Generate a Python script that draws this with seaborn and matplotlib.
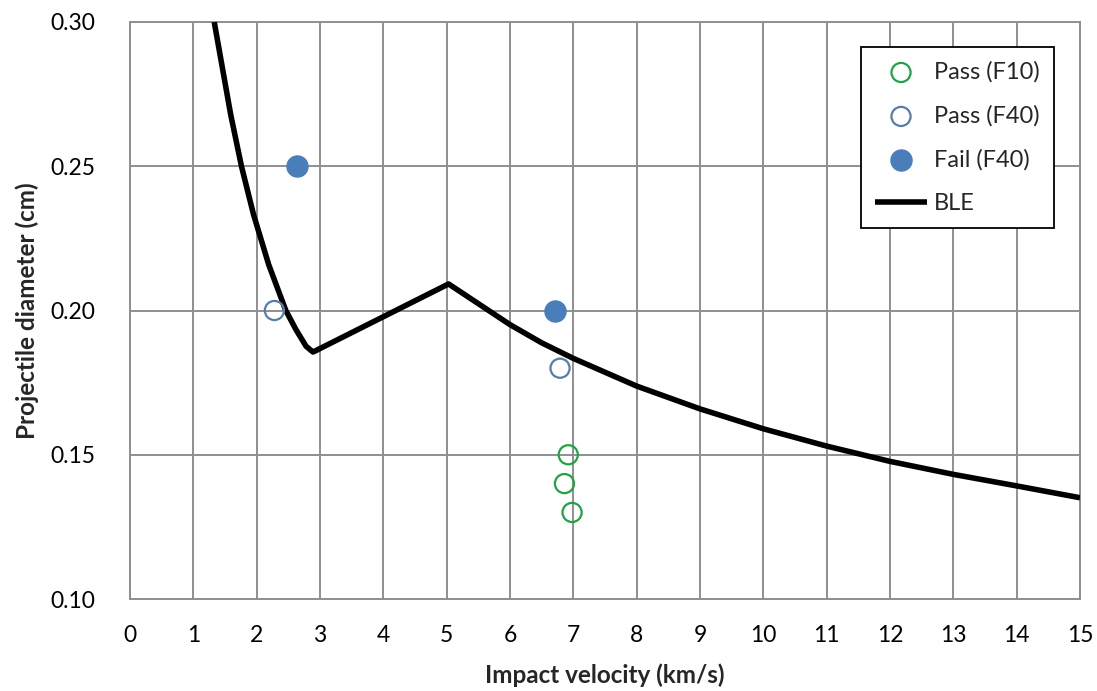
import matplotlib
matplotlib.use("Agg")
import matplotlib.pyplot as plt
import seaborn as sns
import pandas as pd

# ---- data ----
pass_f10_v = [6.92, 6.86, 6.98]
pass_f10_d = [0.15, 0.14, 0.13]

pass_f40_v = [2.28, 6.79]
pass_f40_d = [0.20, 0.18]

fail_f40_v = [2.64, 6.71]
fail_f40_d = [0.25, 0.20]

ble_v = [1.33, 1.45, 1.59, 1.76, 1.95, 2.19, 2.46, 2.62, 2.78, 2.89, 5.03, 6.0,
         6.5, 7.0, 8.0, 9.0, 10.0, 11.0, 12.0, 13.0, 14.0, 15.0]
ble_d = [0.300, 0.2852, 0.2679, 0.250, 0.2333, 0.2159, 0.200, 0.1934, 0.1876, 0.1856,
         0.2092, 0.1951, 0.1888, 0.1834, 0.1738, 0.1659, 0.1590, 0.1530, 0.1477,
         0.1432, 0.1392, 0.1351]

x_ticks = list(range(0, 16))
y_ticks = [0.10, 0.15, 0.20, 0.25, 0.30]
y_tick_labels = ["0.10", "0.15", "0.20", "0.25", "0.30"]

sns.set_theme(style="whitegrid")
plt.rcParams["font.family"] = ["Lato", "DejaVu Sans"]

fig = plt.figure(figsize=(10.97, 6.91), dpi=100)
ax = fig.add_axes([130 / 1097, 1 - 599 / 691, 950 / 1097, 577 / 691])

grid_col = "#8f8f8f"
green = "#21a345"
blue_open = "#5a7ca6"
blue_fill = "#4a7ebb"

ble_df = pd.DataFrame({"v": ble_v, "d": ble_d})
sns.lineplot(data=ble_df, x="v", y="d", ax=ax, color="black", linewidth=4.0,
             sort=False, estimator=None, label="BLE", zorder=3,
             solid_joinstyle="round", solid_capstyle="butt")

sns.scatterplot(x=pass_f10_v, y=pass_f10_d, ax=ax, marker="o", s=190,
                facecolors="none", edgecolor=green, linewidth=1.6,
                label="Pass (F10)", zorder=4)
sns.scatterplot(x=pass_f40_v, y=pass_f40_d, ax=ax, marker="o", s=190,
                facecolors="none", edgecolor=blue_open, linewidth=1.6,
                label="Pass (F40)", zorder=4)
sns.scatterplot(x=fail_f40_v, y=fail_f40_d, ax=ax, marker="o", s=230,
                color=blue_fill, edgecolor=blue_fill, linewidth=1,
                label="Fail (F40)", zorder=4)

ax.set_xlim(0, 15)
ax.set_ylim(0.10, 0.30)
ax.set_xticks(x_ticks)
ax.set_yticks(y_ticks)
ax.set_yticklabels(y_tick_labels)
ax.tick_params(axis="both", labelsize=16.5, colors="black", length=0)
ax.tick_params(axis="y", pad=25)
ax.tick_params(axis="x", pad=19)

ax.grid(True, color=grid_col, linewidth=1.4)
for sp in ax.spines.values():
    sp.set_visible(True)
    sp.set_color(grid_col)
    sp.set_linewidth(1.4)

ax.set_xlabel("Impact velocity (km/s)", fontsize=17.5, fontweight="bold", labelpad=12)
ax.set_ylabel("Projectile diameter (cm)", fontsize=17.5, fontweight="bold", labelpad=8)

handles, labels = ax.get_legend_handles_labels()
order = ["Pass (F10)", "Pass (F40)", "Fail (F40)", "BLE"]
hmap = dict(zip(labels, handles))
leg = ax.legend([hmap[k] for k in order], order, loc="upper right",
                bbox_to_anchor=(1054 / 1097, 1 - 47 / 691),
                bbox_transform=fig.transFigure, borderaxespad=0,
                fontsize=17, frameon=True,
                fancybox=False, edgecolor="black", framealpha=1,
                borderpad=0.6, labelspacing=0.95, handlelength=2.2,
                handletextpad=0.3)
leg.get_frame().set_linewidth(1.3)

fig.savefig("out.png", dpi=100)
